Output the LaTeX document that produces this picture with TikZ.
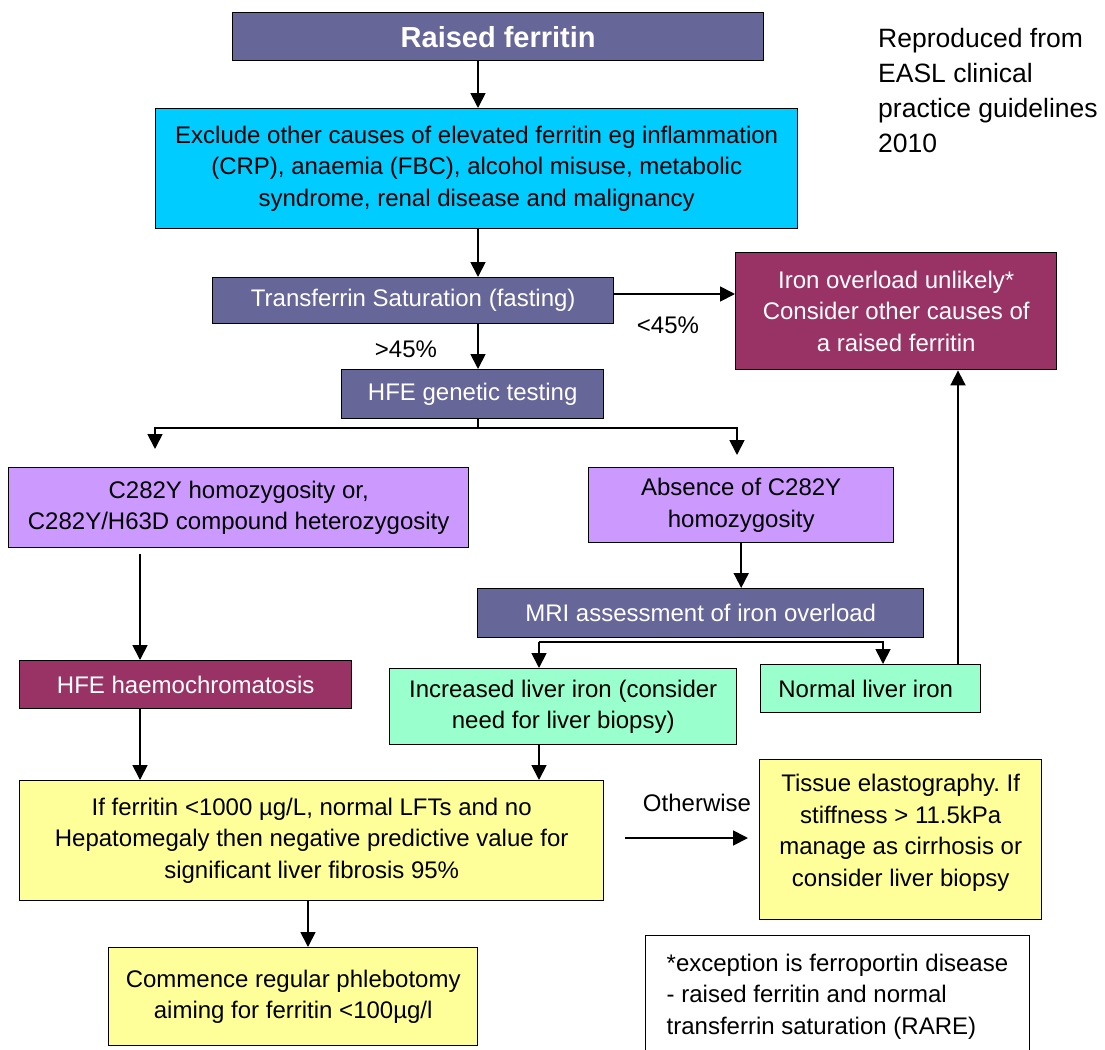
\documentclass[tikz,border=0pt]{standalone}
\usepackage{fontspec}
\setmainfont{Liberation Sans}
\usetikzlibrary{arrows.meta}
\frenchspacing
\definecolor{slate}{HTML}{666699}
\definecolor{skyc}{HTML}{00CCFF}
\definecolor{maroonc}{HTML}{993366}
\definecolor{lilac}{HTML}{CC99FF}
\definecolor{mint}{HTML}{99FFCC}
\definecolor{paleyel}{HTML}{FFFF99}
\newcommand\bodyf{\fontsize{24bp}{31.5bp}\selectfont}
\newcommand\titlef{\fontsize{29bp}{34bp}\selectfont\bfseries}
\newcommand\reprof{\fontsize{26.5bp}{35bp}\selectfont}
\tikzset{
  box/.style={draw=black, line width=1.4bp, inner sep=0pt, align=center,
    font=\bodyf, anchor=north west},
  darkbox/.style={box, fill=slate, text=white},
  redbox/.style={box, fill=maroonc, text=white},
  lilbox/.style={box, fill=lilac},
  mintbox/.style={box, fill=mint},
  yelbox/.style={box, fill=paleyel},
  lbl/.style={font=\bodyf, inner sep=0pt},
  arr/.style={line width=1.8bp, -{Triangle[length=15bp,width=15bp]}},
  ln/.style={line width=1.8bp}
}
\begin{document}
\begin{tikzpicture}[x=1bp,y=-1bp]
\useasboundingbox (0,0) rectangle (1105,1050);
\clip (0,0) rectangle (1105,1050);
\fill[white] (0,0) rectangle (1105,1050);

\node[darkbox, minimum width=531bp, minimum height=48bp, font=\titlef] (raised) at (232,12) {Raised ferritin};
\node[box, fill=skyc, minimum width=642bp, minimum height=120bp] (excl) at (155,108)
  {Exclude other causes of elevated ferritin eg inflammation\\(CRP), anaemia (FBC), alcohol misuse, metabolic\\syndrome, renal disease and malignancy};
\node[darkbox, minimum width=401bp, minimum height=46bp] (tsat) at (212,277) {Transferrin Saturation (fasting)};
\node[darkbox, minimum width=262bp, minimum height=49bp] (hfet) at (341,369) {HFE genetic testing};
\node[redbox, minimum width=321bp, minimum height=117bp] (iron) at (735,252)
  {Iron overload unlikely*\\Consider other causes of\\a raised ferritin};
\node[lilbox, minimum width=460bp, minimum height=80bp] (c282) at (8,467)
  {C282Y homozygosity or,\\C282Y/H63D compound heterozygosity};
\node[lilbox, minimum width=305bp, minimum height=75bp] (absn) at (588,467)
  {Absence of C282Y\\homozygosity};
\node[darkbox, minimum width=446bp, minimum height=49bp] (mri) at (477,588) {MRI assessment of iron overload};
\node[mintbox, minimum width=347bp, minimum height=76bp] (incr) at (389,668)
  {Increased liver iron (consider\\need for liver biopsy)};
\node[mintbox, minimum width=220bp, minimum height=48bp] (norm) at (760,664) {Normal liver iron\hspace*{10bp}};
\node[redbox, minimum width=332bp, minimum height=48bp] (hfeh) at (19,660) {HFE haemochromatosis};
\node[yelbox, minimum width=584bp, minimum height=120bp] (iff) at (19,780)
  {If ferritin <1000 µg/L, normal LFTs and no\\Hepatomegaly then negative predictive value for\\significant liver fibrosis 95\%};
\node[yelbox, minimum width=282bp, minimum height=160bp] (tiss) at (759,759)
  {Tissue elastography. If\\stiffness > 11.5kPa\\manage as cirrhosis or\\consider liver biopsy\\[-13bp]};
\node[yelbox, minimum width=369bp, minimum height=98bp] (comm) at (108,947)
  {Commence regular phlebotomy\\aiming for ferritin <100µg/l};
\node[box, align=left, inner xsep=21bp, inner ysep=18bp, minimum width=383bp] (foot) at (645,935)
  {*exception is ferroportin disease\\- raised ferritin and normal\\transferrin saturation (RARE)};
\node[anchor=north west, align=left, font=\reprof, inner sep=0pt] (repro) at (878,28)
  {Reproduced from\\EASL clinical\\practice guidelines\\2010};

\node[lbl] (gt) at (406,349) {>45\%};
\node[lbl] (lt) at (668,325) {<45\%};
\node[lbl] (oth) at (697,803) {Otherwise};

% connectors
\draw[arr] (raised.south -| 478,0) -- (excl.north -| 478,0);
\draw[arr] (excl.south -| 478,0) -- (tsat.north -| 478,0);
\draw[arr] (tsat.south -| 478,0) -- (hfet.north -| 478,0);
\draw[arr] (tsat.east |- 0,294) -- (iron.west |- 0,294);
\coordinate (hb) at (478,428);
\coordinate (cl) at (155,449);
\coordinate (cr) at (737,455);
\draw[ln] (hfet.south -| hb) -- (hb);
\draw[arr] (hb) -| (cl);
\draw[arr] (hb) -| (cr);
\draw[arr] (absn.south) -- (absn.south |- mri.north);
\coordinate (mh) at (539,642);
\draw[arr] (mh) -- (incr.north -| mh);
\draw[arr] (mh) -| (norm.north -| 883,0);
\draw[arr] (norm.north -| 958,0) -- (iron.south -| 958,0);
\draw[arr] ([yshift=-6bp]c282.south -| 140,0) -- (hfeh.north -| 140,0);
\draw[arr] (hfeh.south -| 140,0) -- (iff.north -| 140,0);
\draw[arr] (incr.south -| 539,0) -- (iff.north -| 539,0);
\draw[arr] (iff.south -| 308,0) -- (comm.north -| 308,0);
\coordinate (os) at (625,838);
\coordinate (oe) at (748,838);
\draw[arr] (os) -- (oe);
\end{tikzpicture}
\end{document}
